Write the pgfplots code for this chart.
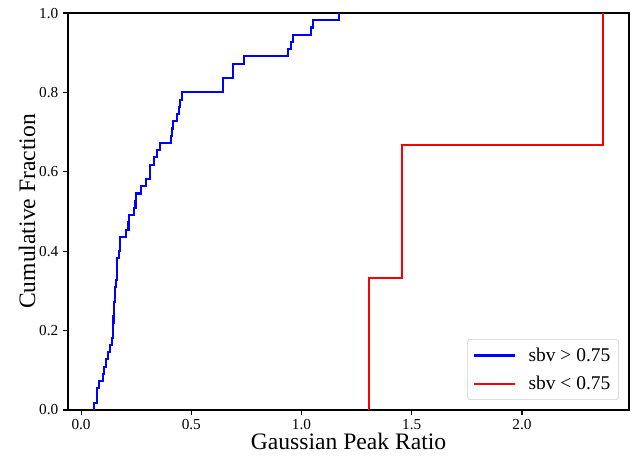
\documentclass[border=0pt]{standalone}
\usepackage{fontspec}
\setmainfont{Liberation Serif}
\usepackage{pgfplots}
\pgfplotsset{compat=1.18}
\begin{document}
\begin{tikzpicture}
\begin{axis}[
  at={(0pt,0pt)}, anchor=south west,
  scale only axis,
  width=403.9pt, height=285.8pt,
  xmin=-0.059, xmax=2.485, ymin=0, ymax=1,
  xtick={0,0.5,1,1.5,2}, ytick={0,0.2,0.4,0.6,0.8,1},
  xticklabel style={/pgf/number format/.cd, fixed, fixed zerofill, precision=1},
  yticklabel style={/pgf/number format/.cd, fixed, fixed zerofill, precision=1},
  /pgf/number format/assume math mode=true,
  tick label style={font=\fontsize{11}{13}\selectfont},
  tick align=outside, tick pos=left,
  major tick length=3.5pt,
  every tick/.style={black, line width=0.8pt},
  axis line style={line width=0.8pt, black},
  xlabel={Gaussian Peak Ratio}, ylabel={Cumulative Fraction},
  label style={font=\fontsize{17}{20}\selectfont},
  xlabel style={at={(axis description cs:0.5,-0.08)}, anchor=center, inner sep=0pt},
  ylabel style={at={(axis description cs:-0.073,0.5)}, anchor=center, inner sep=0pt},
  legend cell align=left,
  legend style={at={(1,0)}, anchor=south east, xshift=-7.2pt, yshift=7.2pt,
    draw=black!20, rounded corners=2pt, fill=white,
    font=\fontsize{14}{17}\selectfont, inner xsep=4pt, inner ysep=4pt,
    row sep=5pt,
    /tikz/every odd column/.append style={column sep=7pt}},
  legend image code/.code={\draw[#1, line width=1.5pt] (0pt,0pt) -- (29.5pt,0pt);},
]
\addplot[const plot, blue, line width=1.5pt] coordinates {
(0.057,0)
(0.057,0.01818)
(0.071,0.03636)
(0.071,0.05455)
(0.080,0.07273)
(0.101,0.09091)
(0.103,0.10909)
(0.113,0.12727)
(0.124,0.14545)
(0.133,0.16364)
(0.141,0.18182)
(0.143,0.2)
(0.145,0.21818)
(0.147,0.23636)
(0.149,0.25455)
(0.151,0.27273)
(0.155,0.29091)
(0.156,0.30909)
(0.160,0.32727)
(0.162,0.34545)
(0.164,0.36364)
(0.165,0.38182)
(0.171,0.4)
(0.176,0.41818)
(0.178,0.43636)
(0.204,0.45455)
(0.215,0.47273)
(0.219,0.49091)
(0.242,0.50909)
(0.247,0.52727)
(0.249,0.54545)
(0.273,0.56364)
(0.295,0.58182)
(0.311,0.6)
(0.313,0.61818)
(0.331,0.63636)
(0.346,0.65455)
(0.358,0.67273)
(0.408,0.69091)
(0.411,0.70909)
(0.416,0.72727)
(0.434,0.74545)
(0.446,0.76364)
(0.449,0.78182)
(0.457,0.8)
(0.645,0.81818)
(0.645,0.83636)
(0.691,0.85455)
(0.691,0.87273)
(0.741,0.89091)
(0.940,0.90909)
(0.952,0.92727)
(0.963,0.94545)
(1.043,0.96364)
(1.054,0.98182)
(1.171,1)
};
\addlegendentry{sbv > 0.75}
\addplot[const plot, red, line width=1.5pt] coordinates {
(1.306,0)
(1.306,0.33333)
(1.456,0.66667)
(2.369,1)
};
\addlegendentry{sbv < 0.75}
\end{axis}
\pgfresetboundingbox
\path[use as bounding box] (-49pt,-36pt) rectangle (406.8pt,295.2pt);
\end{tikzpicture}
\end{document}
